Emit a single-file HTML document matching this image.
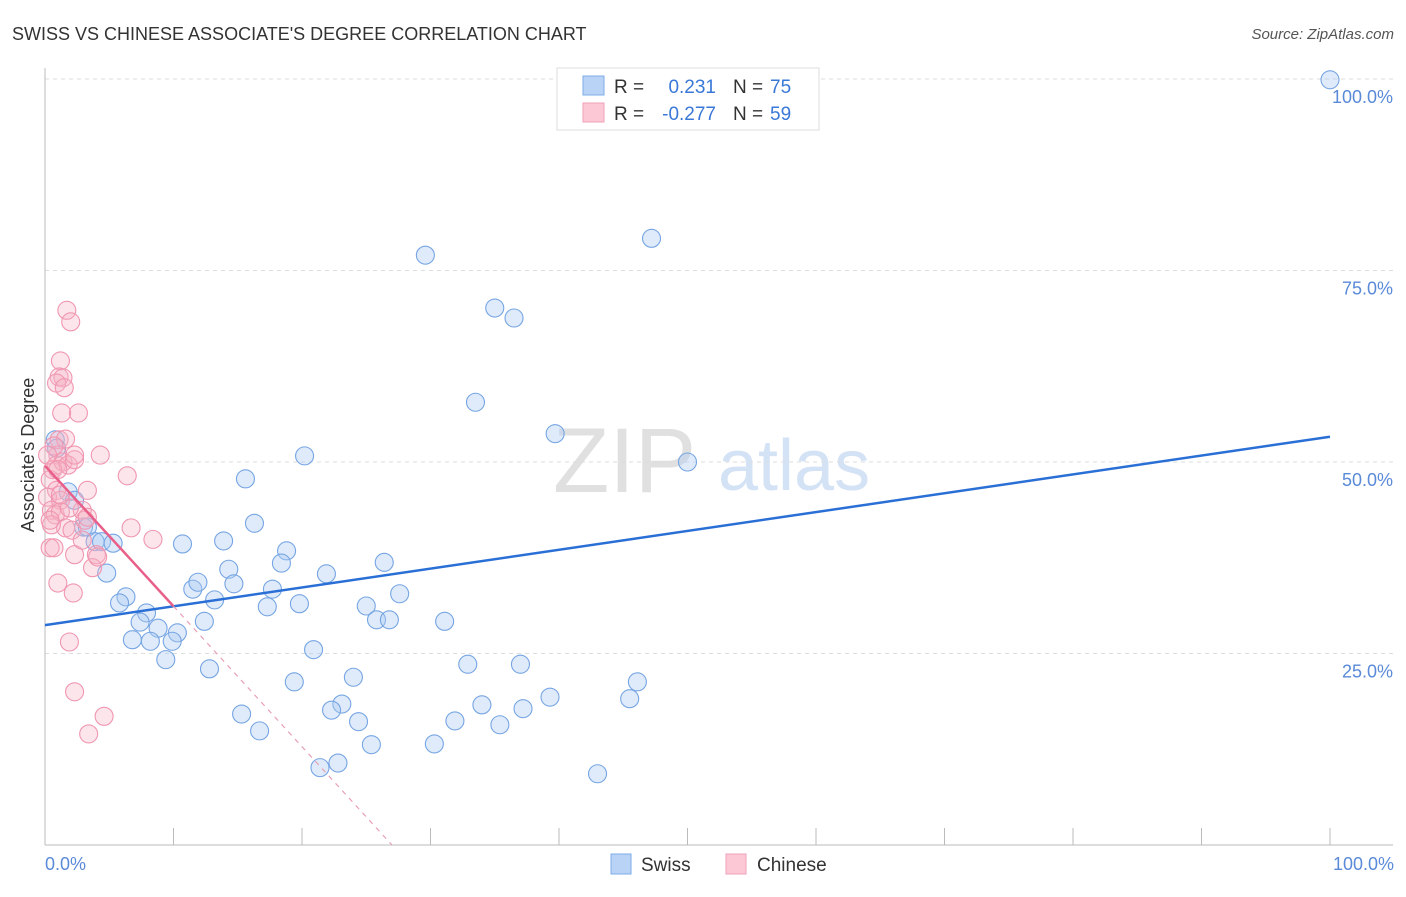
<!DOCTYPE html>
<html><head><meta charset="utf-8"><style>
body{margin:0;background:#fff;font-family:"Liberation Sans",sans-serif;}
svg text{font-family:"Liberation Sans",sans-serif;}
</style></head><body>
<svg id="chart" width="1406" height="892" viewBox="0 0 1406 892" xmlns="http://www.w3.org/2000/svg">
<text x="12" y="40" font-size="18" fill="#333">SWISS VS CHINESE ASSOCIATE'S DEGREE CORRELATION CHART</text>
<text x="1394" y="39" font-size="15" fill="#555" font-style="italic" text-anchor="end">Source: ZipAtlas.com</text>
<g>
<text x="553" y="492" font-size="92" font-family="Liberation Serif,serif" fill="#e0e0e0">ZIP</text>
<text x="718" y="490" font-size="72" fill="#d4e2f5">atlas</text>
</g>
<g id="grid"></g>
<g id="axes"></g>
<g id="trend"></g>
<g id="points"></g>
<text transform="translate(34,455) rotate(-90)" font-size="18" fill="#333" text-anchor="middle">Associate's Degree</text>
<text x="45" y="870" font-size="18" fill="#5a8ad8">0.0%</text>
<text x="1394" y="870" font-size="18" fill="#5a8ad8" text-anchor="end">100.0%</text>
<g>
<rect x="557" y="68" width="262" height="62" fill="#fff" stroke="#ddd"/>
<rect x="583" y="76" width="21" height="19" fill="#b8d3f5" stroke="#7eaee9"/>
<rect x="583" y="103" width="21" height="19" fill="#fcc8d6" stroke="#f0a0b8"/>
<text x="614" y="93" font-size="19" fill="#333">R = </text><text x="716" y="93" font-size="19" fill="#3a78d8" text-anchor="end">0.231</text>
<text x="733" y="93" font-size="19" fill="#333">N = </text><text x="770" y="93" font-size="19" fill="#3a78d8">75</text>
<text x="614" y="120" font-size="19" fill="#333">R = </text><text x="716" y="120" font-size="19" fill="#3a78d8" text-anchor="end">-0.277</text>
<text x="733" y="120" font-size="19" fill="#333">N = </text><text x="770" y="120" font-size="19" fill="#3a78d8">59</text>
</g>
<g><rect x="611" y="854" width="20" height="20" fill="#b8d3f5" stroke="#7eaee9"/><text x="641" y="871" font-size="19" fill="#333">Swiss</text></g>
<g><rect x="726" y="854" width="20" height="20" fill="#fcc8d6" stroke="#f0a0b8"/><text x="757" y="871" font-size="19" fill="#333">Chinese</text></g>
</svg>
<script>
const yTicks=[25,50,75,100];
const yTickLabels=["25.0%","50.0%","75.0%","100.0%"];
const xTicks=[10,20,30,40,50,60,70,80,90,100];
const swissX=[100,47.2,29.6,35.0,36.5,33.5,39.7,50.0,20.2,15.6,16.3,13.9,10.7,18.8,18.4,14.3,26.4,21.9,14.7,11.5,11.9,17.7,13.2,27.6,19.8,17.3,25.0,25.8,26.8,31.1,12.4,6.3,5.8,7.9,7.4,8.8,10.3,9.9,6.8,8.2,9.4,12.8,20.9,24.0,32.9,37.0,19.4,46.1,39.3,45.5,34.0,23.1,22.3,37.2,15.3,24.4,31.9,35.4,16.7,25.4,30.3,22.8,21.4,43.0,0.8,1.8,2.3,3.0,3.3,3.9,4.4,5.3,4.8,0.9];
const swissY=[99.9,79.2,77.0,70.1,68.8,57.8,53.7,50.0,50.8,47.8,42.0,39.7,39.3,38.4,36.8,36.0,36.9,35.4,34.1,33.4,34.3,33.4,32.0,32.8,31.5,31.1,31.2,29.4,29.4,29.2,29.2,32.4,31.6,30.3,29.1,28.3,27.7,26.6,26.8,26.6,24.2,23.0,25.5,21.9,23.6,23.6,21.3,21.3,19.3,19.1,18.3,18.4,17.6,17.8,17.1,16.1,16.2,15.7,14.9,13.1,13.2,10.7,10.1,9.3,52.9,46.1,45.0,41.5,41.5,39.6,39.6,39.4,35.5,51.8];
const chineseX=[1.7,2.0,1.2,1.1,1.4,0.9,1.5,1.3,2.6,1.1,1.6,4.3,6.4,1.0,0.9,1.4,1.8,2.3,0.6,0.4,0.9,0.2,1.2,0.5,0.8,1.2,3.3,2.9,1.6,2.1,3.1,0.5,0.4,4.0,3.7,6.7,8.4,2.3,1.0,2.2,0.4,0.7,1.9,2.3,4.6,3.4,3.3,2.9,0.7,1.9,1.2,0.2,2.3,1.0,4.1];
const chineseY=[69.8,68.3,63.2,61.1,61.0,60.3,59.7,56.4,56.4,52.9,53.0,50.9,48.2,50.9,49.6,50.0,49.6,50.3,49.0,47.7,46.3,45.4,45.0,43.7,43.1,43.5,46.3,43.7,41.4,41.1,42.4,41.8,42.4,37.9,36.2,41.4,39.9,37.9,34.2,32.9,38.8,38.8,26.5,20.0,16.8,14.5,42.8,39.8,52.1,44.0,45.7,50.9,50.9,49.0,37.6];
const swissTrend=[28.7,53.3];
const chineseTrend=[49.5,27.0];
const NS="http://www.w3.org/2000/svg";
const sx=v=>45+v*12.85, sy=v=>845-v*7.66;
function mk(t,a,p){const e=document.createElementNS(NS,t);for(const k in a)e.setAttribute(k,a[k]);p.appendChild(e);return e;}
const grid=document.getElementById('grid'),axes=document.getElementById('axes'),pts=document.getElementById('points'),tr=document.getElementById('trend');
yTicks.forEach((t,i)=>{
 const l=mk('line',{x1:45,x2:1393,y1:sy(t),y2:sy(t),stroke:'#ddd','stroke-dasharray':'4,4'},grid);
 
 
 const tx=mk('text',{x:1393,y:sy(t)+24,'font-size':18,fill:'#5a8ad8','text-anchor':'end'},grid);
 tx.textContent=yTickLabels[i];
 
 
});
mk('line',{x1:45,x2:45,y1:68,y2:845,stroke:'#bbb'},axes);
mk('line',{x1:45,x2:1393,y1:845,y2:845,stroke:'#bbb'},axes);
xTicks.forEach(t=>{
 const l=mk('line',{x1:sx(t),x2:sx(t),y1:828,y2:845,stroke:'#bbb'},axes);
 
 
});
swissX.forEach((x,i)=>{
 const c=mk('circle',{cx:sx(x),cy:sy(swissY[i]),r:9,fill:'rgba(170,203,243,0.38)',stroke:'#76a5e3','stroke-width':1.1},pts);
 
 
});
chineseX.forEach((x,i)=>{
 const c=mk('circle',{cx:sx(x),cy:sy(chineseY[i]),r:9,fill:'rgba(247,180,198,0.33)',stroke:'#f096b0','stroke-width':1.1},pts);
 
 
});
const bl=mk('line',{x1:sx(0),y1:sy(swissTrend[0]),x2:sx(100),y2:sy(swissTrend[1]),stroke:'#2a6fd6','stroke-width':2.5},pts);


const slope=-chineseTrend[0]/chineseTrend[1];
const split=10;
const pl=mk('line',{x1:sx(0),y1:sy(chineseTrend[0]),x2:sx(split),y2:sy(chineseTrend[0]+slope*split),stroke:'#e8608a','stroke-width':2.5},pts);


const pd=mk('line',{x1:sx(split),y1:sy(chineseTrend[0]+slope*split),x2:sx(chineseTrend[1]),y2:sy(0),stroke:'#e8a0b6','stroke-width':1.2,'stroke-dasharray':'5,5'},pts);


</script>
</body></html>
